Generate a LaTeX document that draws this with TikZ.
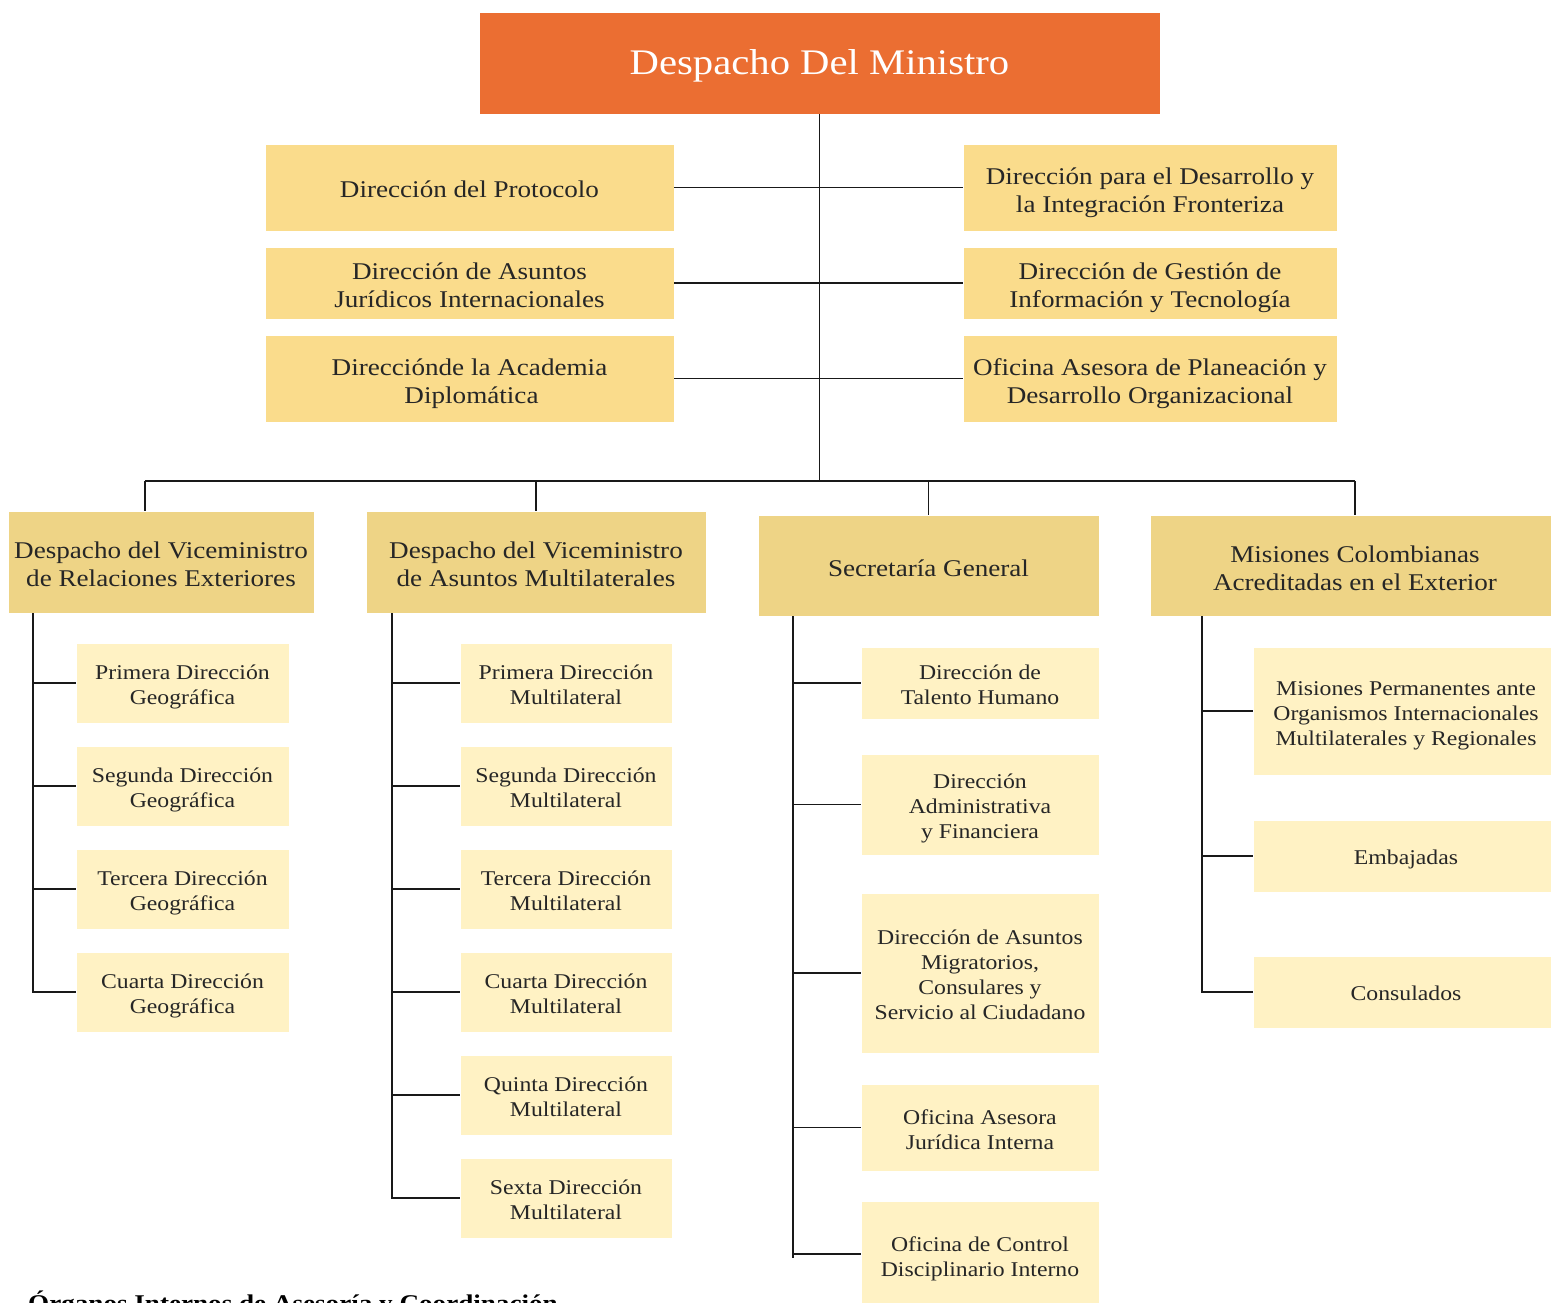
\documentclass[tikz,border=0pt]{standalone}
\usepackage{fontspec}
\setmainfont{Liberation Serif}[FakeStretch=1.13]
\definecolor{titlefill}{HTML}{EB6E32}
\definecolor{lone}{HTML}{FADC8C}
\definecolor{ltwo}{HTML}{EED486}
\definecolor{lsub}{HTML}{FFF2C4}
\definecolor{txt}{HTML}{262626}
\newcommand{\bx}[2][0pt]{\raisebox{-#1}[\height][\depth]{\begin{tabular}{@{}c@{}}#2\end{tabular}}}
\begin{document}
\begin{tikzpicture}[x=1pt,y=-1pt,
  box/.style={draw=white, line width=0.8pt, inner sep=0pt, text=txt},
  titlebox/.style={box, fill=titlefill, text=white, font=\fontsize{36}{42}\selectfont},
  onebox/.style={box, fill=lone, font=\fontsize{24}{28}\selectfont},
  twobox/.style={box, fill=ltwo, font=\fontsize{24}{28}\selectfont},
  subbox/.style={box, fill=lsub, font=\fontsize{21}{25}\selectfont},
  ln/.style={draw=black!90, line width=1.8pt}]
\useasboundingbox (0,0) rectangle (1551,1303);
\fill[white] (0,0) rectangle (1551,1303);

% title
\node[titlebox, minimum width=681pt, minimum height=102pt] (top) at (819.5,63) {\bx[3pt]{Despacho Del Ministro}};

% advisory boxes
\node[onebox, minimum width=409pt, minimum height=87pt] (l1) at (469.5,187.5) {\bx[4pt]{Dirección del Protocolo}};
\node[onebox, minimum width=409pt, minimum height=72pt] (l2) at (469.5,283) {\bx[5pt]{Dirección de Asuntos\\Jurídicos Internacionales}};
\node[onebox, minimum width=409pt, minimum height=87pt] (l3) at (469.5,378.5) {\bx[5pt]{Direcciónde la Academia\\\hspace*{4pt}Diplomática}};
\node[onebox, minimum width=374pt, minimum height=87pt] (r1) at (1150,187.5) {\bx[5pt]{Dirección para el Desarrollo y\\la Integración Fronteriza}};
\node[onebox, minimum width=374pt, minimum height=72pt] (r2) at (1150,283) {\bx[5pt]{Dirección de Gestión de\\Información y Tecnología}};
\node[onebox, minimum width=374pt, minimum height=87pt] (r3) at (1150,378.5) {\bx[5pt]{Oficina Asesora de Planeación y\\Desarrollo Organizacional}};

% second level
\node[twobox, minimum width=306pt, minimum height=102pt] (v1) at (161,562) {\bx[5pt]{Despacho del Viceministro\\de Relaciones Exteriores}};
\node[twobox, minimum width=340pt, minimum height=102pt] (v2) at (536,562) {\bx[5pt]{Despacho del Viceministro\\de Asuntos Multilaterales}};
\node[twobox, minimum width=341pt, minimum height=101pt] (sg) at (928.5,565.5) {\bx[5pt]{Secretaría General}};
\node[twobox, minimum width=410pt, minimum height=101pt] (mc) at (1355,565.5) {\bx[5pt]{Misiones Colombianas\\Acreditadas en el Exterior}};

% V1 children
\node[subbox, minimum width=213pt, minimum height=80pt] (g1) at (182.5,683) {\bx[4pt]{Primera Dirección\\Geográfica}};
\node[subbox, minimum width=213pt, minimum height=80pt] (g2) at (182.5,786) {\bx[4pt]{Segunda Dirección\\Geográfica}};
\node[subbox, minimum width=213pt, minimum height=80pt] (g3) at (182.5,889) {\bx[4pt]{Tercera Dirección\\Geográfica}};
\node[subbox, minimum width=213pt, minimum height=80pt] (g4) at (182.5,992) {\bx[4pt]{Cuarta Dirección\\Geográfica}};

% V2 children
\node[subbox, minimum width=212pt, minimum height=80pt] (m1) at (566,683) {\bx[4pt]{Primera Dirección\\Multilateral}};
\node[subbox, minimum width=212pt, minimum height=80pt] (m2) at (566,786) {\bx[4pt]{Segunda Dirección\\Multilateral}};
\node[subbox, minimum width=212pt, minimum height=80pt] (m3) at (566,889) {\bx[4pt]{Tercera Dirección\\Multilateral}};
\node[subbox, minimum width=212pt, minimum height=80pt] (m4) at (566,992) {\bx[4pt]{Cuarta Dirección\\Multilateral}};
\node[subbox, minimum width=212pt, minimum height=80pt] (m5) at (566,1095) {\bx[4pt]{Quinta Dirección\\Multilateral}};
\node[subbox, minimum width=212pt, minimum height=80pt] (m6) at (566,1198) {\bx[4pt]{Sexta Dirección\\Multilateral}};

% SG children
\node[subbox, minimum width=238pt, minimum height=72pt] (s1) at (980,683) {\bx[4pt]{Dirección de\\Talento Humano}};
\node[subbox, minimum width=238pt, minimum height=101pt] (s2) at (980,804.5) {\bx[4pt]{Dirección\\Administrativa\\y Financiera}};
\node[subbox, minimum width=238pt, minimum height=160pt] (s3) at (980,973) {\bx[4pt]{Dirección de Asuntos\\Migratorios,\\Consulares y\\Servicio al Ciudadano}};
\node[subbox, minimum width=238pt, minimum height=87pt] (s4) at (980,1127.5) {\bx[4pt]{Oficina Asesora\\Jurídica Interna}};
\node[subbox, minimum width=238pt, minimum height=110pt] (s5) at (980,1256) {\bx[3pt]{Oficina de Control\\Disciplinario Interno}};

% MC children
\node[subbox, minimum width=306pt, minimum height=128pt] (e1) at (1406,711) {\bx[4pt]{Misiones Permanentes ante\\Organismos Internacionales\\Multilaterales y Regionales}};
\node[subbox, minimum width=306pt, minimum height=72pt] (e2) at (1406,856) {\bx[3pt]{Embajadas}};
\node[subbox, minimum width=306pt, minimum height=72pt] (e3) at (1406,992) {\bx[3pt]{Consulados}};

% connectors top
\coordinate (b1) at (145,481);
\coordinate (b4) at (1355,481);
\draw[ln] (top.south) -- (top.south |- b1);
\draw[ln] (l1.east) -- (r1.west);
\draw[ln] (l2.east) -- (r2.west);
\draw[ln] (l3.east) -- (r3.west);
\draw[ln] (b1) -- (b4);
\draw[ln] (b1) -- (b1 |- v1.north);
\draw[ln] (v2.north |- b1) -- (v2.north);
\draw[ln] (sg.north |- b1) -- (sg.north);
\draw[ln] (b4) -- (b4 |- mc.north);

% trunks
\coordinate (t1) at (33,613);
\coordinate (t2) at (392,613);
\coordinate (t3) at (793,616);
\coordinate (t4) at (1202,616);
\coordinate (t3end) at (793,1258);
\draw[ln] (t1) |- (g4.west);
\foreach \n in {g1,g2,g3} \draw[ln] (\n.west) -- (\n.west -| t1);
\draw[ln] (t2) |- (m6.west);
\foreach \n in {m1,m2,m3,m4,m5} \draw[ln] (\n.west) -- (\n.west -| t2);
\draw[ln] (t3) -- (t3end);
\foreach \n in {s1,s2,s3,s4} \draw[ln] (\n.west) -- (\n.west -| t3);
\draw[ln] (s5.west |- 0,1254) -- (t3 |- 0,1254);
\draw[ln] (t4) |- (e3.west);
\foreach \n in {e1,e2} \draw[ln] (\n.west) -- (\n.west -| t4);

% bottom heading (cut off by the page edge, as in the source)
\node[anchor=base west, inner sep=0pt, text=black, font=\bfseries\fontsize{24}{28}\selectfont] (hd) at (28,1311) {Órganos Internos de Asesoría y Coordinación};
\end{tikzpicture}
\end{document}
